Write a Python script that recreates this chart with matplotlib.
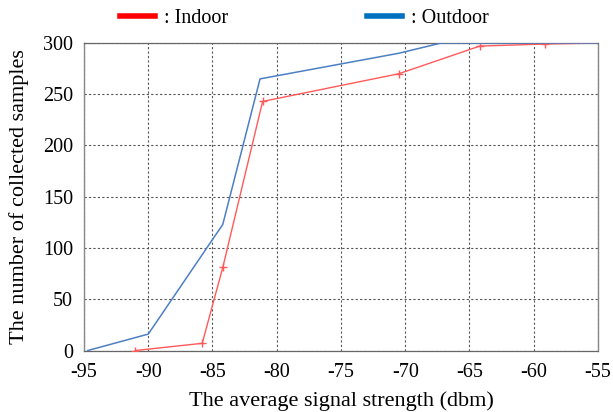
import matplotlib
matplotlib.use("Agg")
import matplotlib.pyplot as plt
from matplotlib.lines import Line2D

plt.rcParams['font.family'] = ['Liberation Serif', 'DejaVu Serif']

indoor_x = [-91.0, -85.8, -84.2, -81.1, -70.5, -64.2, -59.1, -55.0]
indoor_y = [0, 7, 81, 243, 270, 297, 299, 300]
outdoor_x = [-94.7, -90.0, -84.2, -81.3, -70.5, -67.2, -55.0]
outdoor_y = [0, 16, 123, 265, 290, 300, 300]
x_ticks = [-95, -90, -85, -80, -75, -70, -65, -60, -55]
y_ticks = [0, 50, 100, 150, 200, 250, 300]
legend_labels = [': Indoor', ': Outdoor']

fig = plt.figure(figsize=(6.13, 4.12), dpi=100)
ax = fig.add_axes([84/613, 1-350.5/412, (598-84)/613, (350.5-43)/412])

ax.plot(indoor_x, indoor_y, color='#ff5a5a', lw=1.0, marker='+', ms=6,
        markevery=list(range(len(indoor_x) - 1)), zorder=3)
ax.plot(outdoor_x, outdoor_y, color='#4d7fc4', lw=1.1, zorder=3)

ax.set_xlim(-95, -55)
ax.set_ylim(0, 300)
ax.set_xticks(x_ticks)
ax.set_xticklabels([str(v) for v in x_ticks])
ax.set_yticks(y_ticks)
ax.set_yticklabels([str(v) for v in y_ticks])
ax.tick_params(length=0, labelsize=14.5)
ax.tick_params(axis='x', pad=9)
ax.tick_params(axis='y', pad=8)
ax.grid(True, color='#555555', lw=0.8, ls=(0, (2, 2)))
for s in ['left', 'right']:
    ax.spines[s].set_color('#888888')
    ax.spines[s].set_linewidth(1.0)
for s in ['top', 'bottom']:
    ax.spines[s].set_color('#666666')
    ax.spines[s].set_linewidth(0.9)
    ax.spines[s].set_linestyle((0, (1, 1)))

ax.set_xlabel('The average signal strength (dbm)', fontsize=16, labelpad=7)
ax.set_ylabel('The number of collected samples', fontsize=16, labelpad=10)

handles = [Line2D([], [], color='#ff0000', lw=4),
           Line2D([], [], color='#0070c0', lw=4)]
fig.legend(handles, legend_labels, loc='center left', bbox_to_anchor=(102/613, 1-18/412),
           ncol=2, frameon=False, fontsize=14.5, handlelength=1.72, handletextpad=0.45,
           columnspacing=6.9)

fig.savefig('out.png', dpi=100)
